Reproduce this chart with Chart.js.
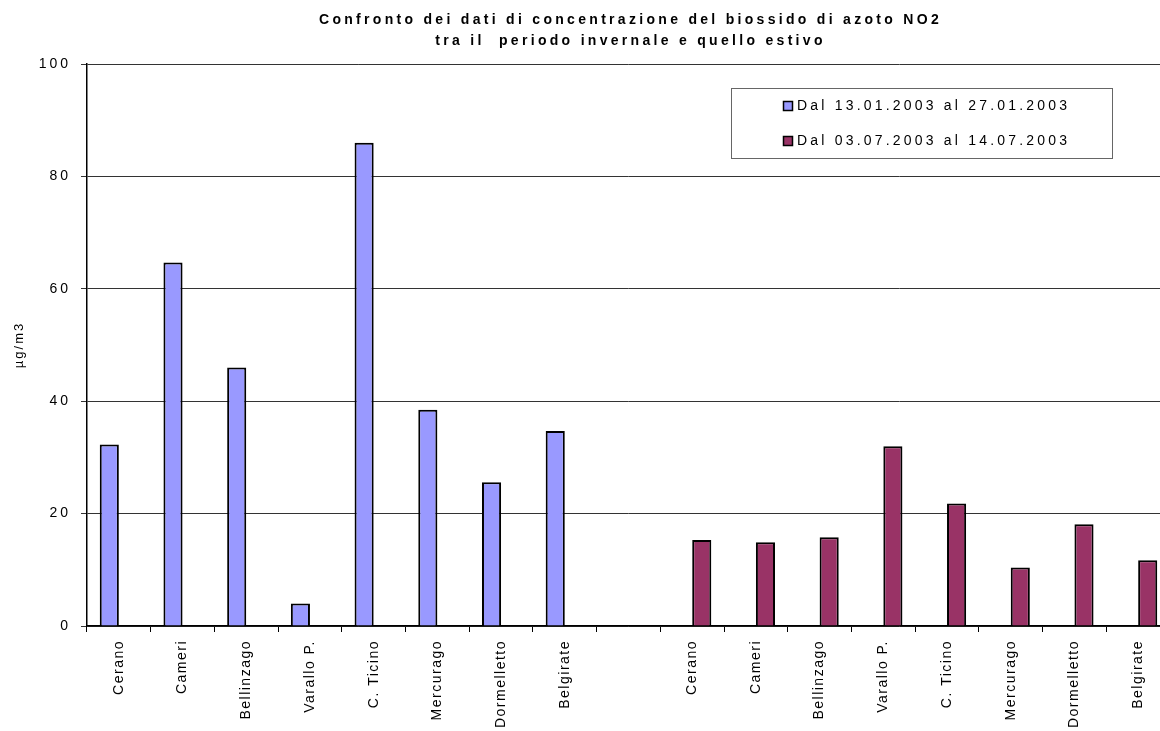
<!DOCTYPE html>
<html>
<head>
<meta charset="utf-8">
<script src="https://cdn.jsdelivr.net/npm/chart.js@4.4.1/dist/chart.umd.min.js"></script>
<style>
  html, body { margin: 0; padding: 0; background: #fff; overflow: hidden; }
  #wrap { width: 1160px; height: 731px; overflow: hidden; }
  canvas { display: block; }
</style>
</head>
<body>
<div id="wrap"><canvas id="c" width="1172" height="731"></canvas></div>
<script>
// Monitoring stations, shown once per campaign with an empty separator slot
const stations = ['Cerano', 'Cameri', 'Bellinzago', 'Varallo P.', 'C. Ticino', 'Mercurago', 'Dormelletto', 'Belgirate'];
const categories = [...stations, '', ...stations];

// NO2 concentrations (µg/m3)
const winterValues = [32.3, 64.7, 46.0, 4.0, 86.0, 38.5, 25.6, 34.7];
const summerValues = [15.3, 14.9, 15.8, 32.0, 21.8, 10.4, 18.1, 11.7];

const winterLabel = 'Dal 13.01.2003 al 27.01.2003';
const summerLabel = 'Dal 03.07.2003 al 14.07.2003';
const titleLines = ['Confronto dei dati di concentrazione del biossido di azoto NO2', 'tra il  periodo invernale e quello estivo'];
const yAxisTitle = 'µg/m3';
const yMin = 0, yMax = 100, yStep = 20;

const FONT = '"Liberation Sans", Arial, sans-serif';

// winter bars occupy the first block, summer bars the second
const winterData = [...winterValues, null, ...stations.map(() => null)];
const summerData = [...stations.map(() => null), null, ...summerValues];

// spaced-out lettering per axis
const labelSpacing = { x: '1.5px', y: '3px' };
const spacingPlugin = {
  id: 'spacing',
  beforeInit(chart) { chart.ctx.letterSpacing = '2px'; },
  beforeUpdate(chart) { chart.ctx.letterSpacing = '2px'; },
  afterLayout(chart) {
    Object.values(chart.scales).forEach(scale => {
      if (scale._spacedLabels) return;
      const orig = scale.drawLabels;
      scale.drawLabels = function (area) {
        const ctx = this.ctx;
        const prev = ctx.letterSpacing;
        ctx.letterSpacing = labelSpacing[this.id] || '2px';
        orig.call(this, area);
        ctx.letterSpacing = prev;
      };
      scale._spacedLabels = true;
    });
  },
  beforeDraw(chart) { chart.ctx.letterSpacing = '2px'; }
};

const titlePlugin = {
  id: 'twoLineTitle',
  afterDraw(chart) {
    const ctx = chart.ctx;
    const cx = (chart.chartArea.left + chart.chartArea.right) / 2;
    ctx.save();
    ctx.letterSpacing = '3.3px';
    ctx.font = 'bold 14px ' + FONT;
    ctx.fillStyle = '#000';
    ctx.textAlign = 'center';
    ctx.textBaseline = 'middle';
    ctx.fillText(titleLines[0], cx + 2, 20);
    ctx.fillText(titleLines[1], cx + 2, 41);
    ctx.restore();
  }
};

const boxLegendPlugin = {
  id: 'boxLegend',
  afterDraw(chart) {
    const ctx = chart.ctx;
    const box = { x: 731, y: 88, w: 381, h: 70 };
    ctx.save();
    ctx.fillStyle = '#fff';
    ctx.fillRect(box.x, box.y, box.w, box.h);
    ctx.strokeStyle = '#666';
    ctx.lineWidth = 1;
    ctx.strokeRect(box.x + 0.5, box.y + 0.5, box.w, box.h);
    ctx.letterSpacing = '3.2px';
    ctx.font = '14px ' + FONT;
    ctx.textBaseline = 'middle';
    ctx.textAlign = 'left';
    const rows = [106, 141];
    chart.data.datasets.forEach((ds, i) => {
      const y = rows[i];
      ctx.fillStyle = ds.backgroundColor;
      ctx.fillRect(783, y - 5, 10, 10);
      ctx.strokeStyle = '#000';
      ctx.lineWidth = 1.5;
      ctx.strokeRect(783.5, y - 4.5, 9, 9);
      ctx.fillStyle = '#000';
      ctx.fillText(ds.label, 797, y);
    });
    ctx.restore();
  }
};

new Chart(document.getElementById('c'), {
  type: 'bar',
  data: {
    labels: categories,
    datasets: [
      { label: winterLabel, data: winterData, backgroundColor: '#9999FF', borderColor: '#000', borderWidth: 2 },
      { label: summerLabel, data: summerData, backgroundColor: '#993366', borderColor: '#000', borderWidth: 2 }
    ]
  },
  options: {
    responsive: false,
    animation: false,
    devicePixelRatio: 1,
    layout: { padding: { top: 64, left: 0, right: 2, bottom: 0 } },
    datasets: { bar: { categoryPercentage: 0.6, barPercentage: 1.0 } },
    plugins: {
      legend: { display: false },
      title: { display: false },
      tooltip: { enabled: false }
    },
    scales: {
      x: {
        offset: true,
        grid: { display: true, drawOnChartArea: false, offset: true, color: '#000', tickLength: 6 },
        border: { color: '#000', width: 1.5 },
        ticks: {
          autoSkip: false, minRotation: 90, maxRotation: 90, padding: 8,
          color: '#000', font: { family: FONT, size: 14 }
        },
        afterFit(scale) { scale.height = 105; }
      },
      y: {
        min: yMin, max: yMax,
        grid: { color: '#333', lineWidth: 1, tickLength: 6 },
        border: { color: '#000', width: 1.5 },
        ticks: {
          stepSize: yStep, padding: 10,
          color: '#000', font: { family: FONT, size: 14 }
        },
        title: {
          display: true, text: yAxisTitle, color: '#000',
          font: { family: FONT, size: 13 }, padding: { top: 12, bottom: 0 }
        },
        afterFit(scale) { scale.width = 87; }
      }
    }
  },
  plugins: [spacingPlugin, titlePlugin, boxLegendPlugin]
});
</script>
</body>
</html>
